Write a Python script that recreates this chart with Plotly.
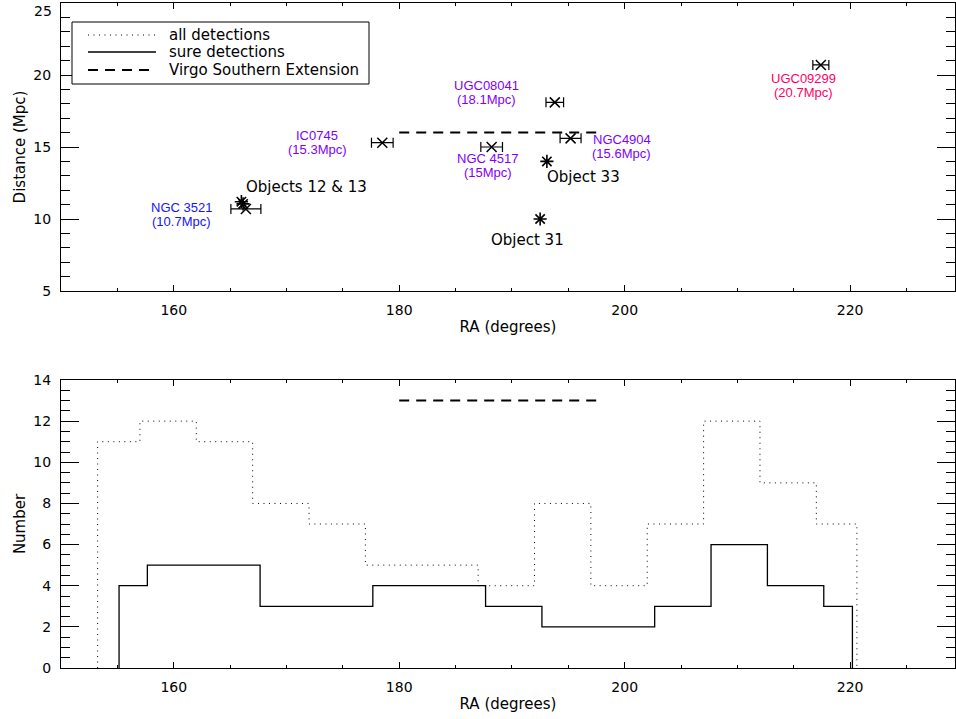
import plotly.graph_objects as go

# ---------------- data ----------------
# Galaxies with distance estimates (top panel)
gal_names = ["NGC 3521", "IC0745", "UGC08041", "NGC 4517", "NGC4904", "UGC09299"]
gal_dist_text = ["(10.7Mpc)", "(15.3Mpc)", "(18.1Mpc)", "(15Mpc)", "(15.6Mpc)", "(20.7Mpc)"]
gal_ra = [166.4, 178.5, 193.8, 188.2, 195.2, 217.4]
gal_dist = [10.7, 15.3, 18.1, 15.0, 15.6, 20.7]
gal_ra_err = [1.33, 0.96, 0.78, 0.96, 0.93, 0.71]

# HI objects (asterisks)
obj_ra = [166.0, 166.15, 193.1, 192.5]
obj_dist = [11.2, 11.05, 14.0, 10.0]
obj_labels = ["Objects 12 & 13", "", "Object 33", "Object 31"]

# Virgo Southern Extension
vse_ra = [180.0, 198.0]
vse_dist = 16.0
vse_level = 13.0

# Histograms (bottom panel)
all_edges = [153.25, 157, 162, 167, 172, 177, 182, 187, 192, 197, 202, 207, 212, 217, 220.6]
all_counts = [11, 12, 11, 8, 7, 5, 5, 4, 8, 4, 7, 12, 9, 7]
sure_edges = [155.15, 157.66, 162.66, 167.66, 172.66, 177.66, 182.66, 187.66,
              192.66, 197.66, 202.66, 207.66, 212.66, 217.66, 220.2]
sure_counts = [4, 5, 5, 3, 3, 4, 4, 3, 2, 2, 3, 6, 4, 3]

legend_labels = ["all detections", "sure detections", "Virgo Southern Extension"]

# axis ticks
dist_ticks = [5, 10, 15, 20, 25]
ra_ticks = [160, 180, 200, 220]

# ---------------- styles ----------------
gal_colors = ["#1414ff", "#8000ff", "#8000ff", "#8000ff", "#8000ff", "#ff0066"]
gal_label_shift = [(-64, -6), (-65, 0), (-68, 10), (-4, -18), (51, -8), (-17, -21)]
obj_label_shift = [(65, 15), (0, 0), (37, -16), (-13, -21)]

FONT = "DejaVu Sans"
DOT = dict(color="black", width=1, dash="1px,4.5px")
SOLID = dict(color="black", width=1.3)
DASH = dict(color="black", width=2, dash="10px,7px")
legend_styles = [DOT, SOLID, DASH]

W, H = 956, 719
ML, MR, MT, MB = 61, 1, 3, 51


def px_to_paper(px, py):
    return (px - ML) / (W - ML - MR), (H - MB - py) / (H - MT - MB)


def step_xy(edges, counts):
    xs = [edges[0]] + list(edges)
    ys = [0] + list(counts) + [0]
    return xs, ys


fig = go.Figure()

# top panel
fig.add_trace(go.Scatter(
    x=vse_ra, y=[vse_dist] * len(vse_ra), mode="lines", line=DASH,
    showlegend=False, xaxis="x", yaxis="y"))
fig.add_trace(go.Scatter(
    x=gal_ra, y=gal_dist, mode="markers",
    marker=dict(symbol="x-thin-open", size=10, color="black",
                line=dict(color="black", width=1.5)),
    error_x=dict(type="data", array=gal_ra_err, symmetric=True, color="black",
                 thickness=1.2, width=5),
    showlegend=False, xaxis="x", yaxis="y"))
fig.add_trace(go.Scatter(
    x=obj_ra, y=obj_dist, mode="markers",
    marker=dict(symbol="asterisk-open", size=11, color="black",
                line=dict(color="black", width=1.6)),
    showlegend=False, xaxis="x", yaxis="y"))

# bottom panel
ax, ay = step_xy(all_edges, all_counts)
fig.add_trace(go.Scatter(
    x=ax, y=ay, mode="lines", line_shape="hv", name=legend_labels[0], line=DOT,
    showlegend=False, xaxis="x2", yaxis="y2"))
sx, sy = step_xy(sure_edges, sure_counts)
fig.add_trace(go.Scatter(
    x=sx, y=sy, mode="lines", line_shape="hv", name=legend_labels[1], line=SOLID,
    showlegend=False, xaxis="x2", yaxis="y2"))
fig.add_trace(go.Scatter(
    x=vse_ra, y=[vse_level] * len(vse_ra), mode="lines", name=legend_labels[2], line=DASH,
    showlegend=False, xaxis="x2", yaxis="y2"))

annotations = []
for i in range(len(gal_names)):
    dx, dy = gal_label_shift[i]
    for txt, off in ((gal_names[i], 7), (gal_dist_text[i], -7)):
        annotations.append(dict(
            x=gal_ra[i], y=gal_dist[i], xref="x", yref="y", text=txt,
            showarrow=False, xshift=dx, yshift=dy + off,
            font=dict(family="Liberation Sans", size=13, color=gal_colors[i])))
for i in range(len(obj_labels)):
    if not obj_labels[i]:
        continue
    dx, dy = obj_label_shift[i]
    annotations.append(dict(
        x=obj_ra[i], y=obj_dist[i], xref="x", yref="y", text=obj_labels[i],
        showarrow=False, xshift=dx, yshift=dy,
        font=dict(family=FONT, size=15, color="black")))

# the top tick label of the distance axis sits just inside the page edge
annotations.append(dict(x=0, y=dist_ticks[-1], xref="paper", yref="y", text=str(dist_ticks[-1]),
                        showarrow=False, xanchor="right", yanchor="top", xshift=-7, yshift=2,
                        font=dict(family=FONT, size=14, color="black")))

# legend box drawn in paper coordinates
shapes = []
bx0, by0 = px_to_paper(72, 84)
bx1, by1 = px_to_paper(369, 22)
shapes.append(dict(type="rect", xref="paper", yref="paper", x0=bx0, y0=by0, x1=bx1, y1=by1,
                   line=dict(color="black", width=1), fillcolor="white", layer="above"))
row_py = [35, 52, 70]
for lab, sty, py in zip(legend_labels, legend_styles, row_py):
    lx0, ly = px_to_paper(88, py)
    lx1, _ = px_to_paper(156, py)
    tx, _ = px_to_paper(167, py)
    shapes.append(dict(type="line", xref="paper", yref="paper", x0=lx0, x1=lx1, y0=ly, y1=ly,
                       line=sty, layer="above"))
    annotations.append(dict(x=tx, y=ly, xref="paper", yref="paper", text=lab, showarrow=False,
                            xanchor="left", yanchor="middle",
                            font=dict(family=FONT, size=15, color="black")))

xcommon = dict(range=[150, 229.3], showgrid=False, zeroline=False, showline=True,
               linecolor="black", linewidth=1, mirror="ticks", ticks="inside",
               ticklen=6, tickcolor="black", tickwidth=1, tickvals=ra_ticks,
               minor=dict(dtick=5, ticklen=3, tickcolor="black", ticks="inside"),
               tickfont=dict(family=FONT, size=14, color="black"),
               ticklabelstandoff=6, automargin=False,
               title=dict(text="RA (degrees)", font=dict(family=FONT, size=15, color="black"),
                          standoff=4))
ycommon = dict(showgrid=False, zeroline=False, showline=True,
               linecolor="black", linewidth=1, mirror="ticks", ticks="inside",
               ticklen=18, tickcolor="black", tickwidth=1, automargin=False,
               tickfont=dict(family=FONT, size=14, color="black"),
               ticklabelstandoff=6)

top_lo = px_to_paper(0, 291)[1]
bot_hi = px_to_paper(0, 380)[1]

fig.update_layout(
    width=W, height=H,
    margin=dict(l=ML, r=MR, t=MT, b=MB, autoexpand=False),
    paper_bgcolor="white", plot_bgcolor="white",
    font=dict(family=FONT, size=14, color="black"),
    xaxis=dict(xcommon, domain=[0, 1], anchor="y"),
    yaxis=dict(ycommon, domain=[top_lo, 1.0], anchor="x", range=[5, 25],
               tickvals=dist_ticks,
               ticktext=[str(v) for v in dist_ticks[:-1]] + [""],
               minor=dict(dtick=1, ticklen=9, tickcolor="black", ticks="inside"),
               title=dict(text="Distance (Mpc)", font=dict(family=FONT, size=15, color="black"),
                          standoff=4)),
    xaxis2=dict(xcommon, domain=[0, 1], anchor="y2"),
    yaxis2=dict(ycommon, domain=[0, bot_hi], anchor="x2", range=[0, 14], dtick=2,
                minor=dict(dtick=0.5, ticklen=9, tickcolor="black", ticks="inside"),
                title=dict(text="Number", font=dict(family=FONT, size=15, color="black"),
                           standoff=4)),
    annotations=annotations,
    shapes=shapes,
    showlegend=False,
)

fig.write_html("out.html", config={"displayModeBar": False},
               post_script="document.body.style.margin='0';")
